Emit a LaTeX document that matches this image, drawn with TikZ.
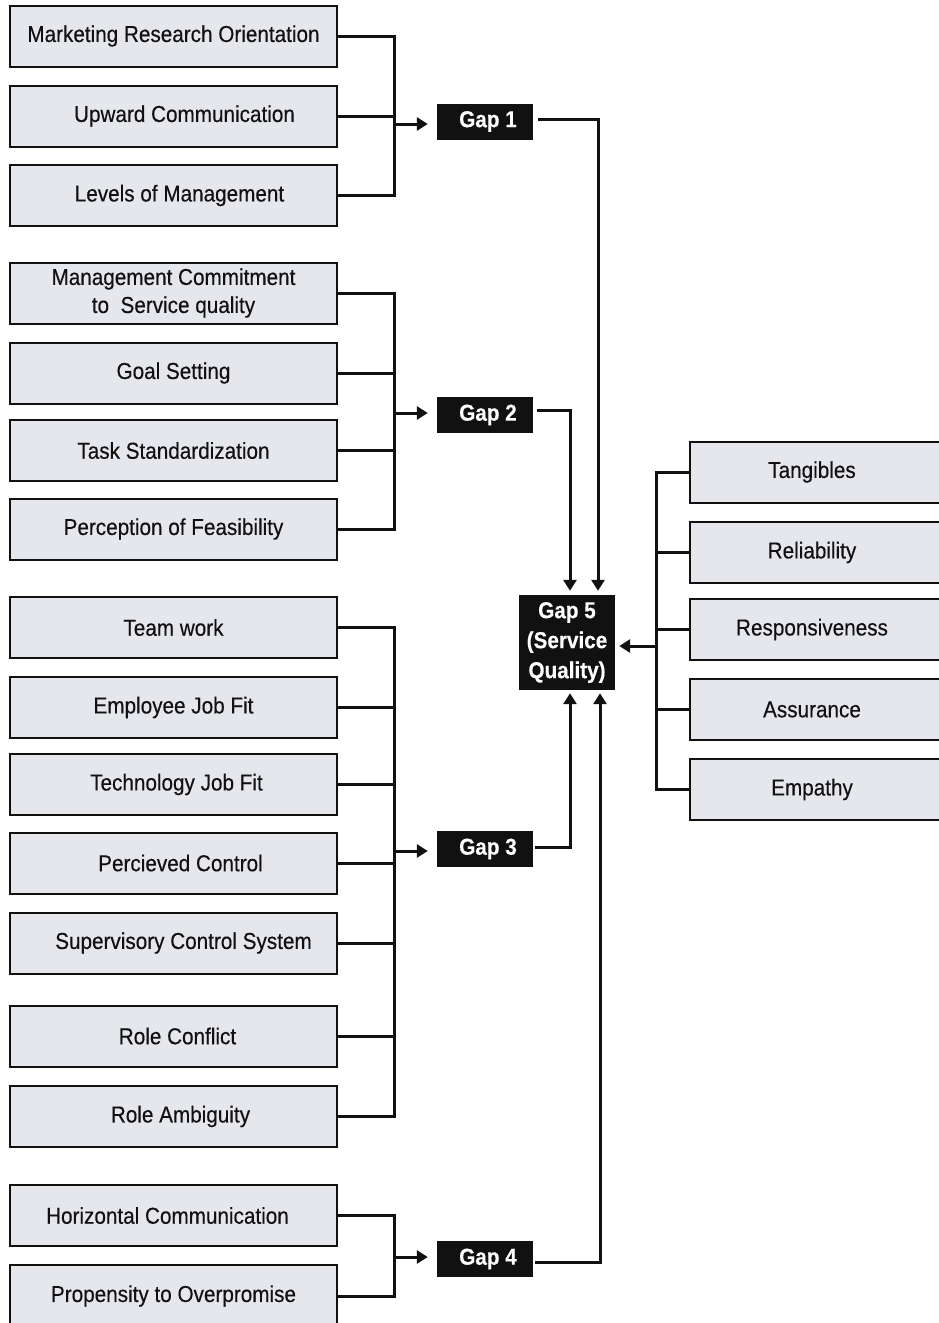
\documentclass[tikz,border=0pt]{standalone}
\usepackage{fontspec}
\setmainfont{Liberation Sans}[FakeStretch=0.9,FakeBold=0.35]
\usetikzlibrary{arrows.meta}
\definecolor{boxfill}{HTML}{E6E7EC}
\definecolor{ink}{HTML}{111111}
\begin{document}
\begin{tikzpicture}[x=1pt,y=-1pt,
  lbox/.style={draw=ink,line width=2pt,fill=boxfill,minimum width=327pt,minimum height=61pt,
    inner sep=0pt,font=\fontsize{23}{27}\selectfont,text=ink},
  rbox/.style={lbox,minimum width=260pt,tx=-16pt},
  tx/.style={execute at begin node={\hspace*{#1}}},
  gapbox/.style={fill=ink,minimum width=96pt,minimum height=36pt,inner sep=0pt,
    text=white,font=\fontsize{23}{27}\selectfont\bfseries},
  wire/.style={draw=ink,line width=3pt},
  arr/.style={wire,-{Triangle[length=11pt,width=13pt]}}
]
\clip (0,0) rectangle (939,1323);
\fill[white] (0,0) rectangle (939,1323);

% factor boxes, left column
\node[lbox] (a1) at (173.5,36) {Marketing Research Orientation};
\node[lbox,tx=22pt] (a2) at (173.5,116) {Upward Communication};
\node[lbox,tx=12pt] (a3) at (173.5,195.5) {Levels of Management};

\node[lbox,align=center,font=\fontsize{23}{28}\selectfont] (b1) at (173.5,293) {Management Commitment\\to\ \ Service quality};
\node[lbox] (b2) at (173.5,373) {Goal Setting};
\node[lbox] (b3) at (173.5,450.5) {Task Standardization};
\node[lbox] (b4) at (173.5,529) {Perception of Feasibility};

\node[lbox] (c1) at (173.5,627.5) {Team work};
\node[lbox] (c2) at (173.5,707.5) {Employee Job Fit};
\node[lbox,tx=6pt] (c3) at (173.5,784.5) {Technology Job Fit};
\node[lbox,tx=14pt] (c4) at (173.5,863) {Percieved Control};
\node[lbox,tx=20pt] (c5) at (173.5,943) {Supervisory Control System};
\node[lbox,tx=8pt] (c6) at (173.5,1036) {Role Conflict};
\node[lbox,tx=14pt] (c7) at (173.5,1116.5) {Role Ambiguity};

\node[lbox,tx=-12pt] (d1) at (173.5,1215.5) {Horizontal Communication};
\node[lbox,minimum height=62pt] (d2) at (173.5,1296) {Propensity to Overpromise};

% service quality dimensions, right column
\node[rbox] (e1) at (820,472) {Tangibles};
\node[rbox] (e2) at (820,552.5) {Reliability};
\node[rbox] (e3) at (820,629.5) {Responsiveness};
\node[rbox] (e4) at (820,709.5) {Assurance};
\node[rbox] (e5) at (820,789.5) {Empathy};

% gap boxes
\node[gapbox,tx=6pt] (g1) at (485,121.5) {Gap 1};
\node[gapbox,tx=6pt] (g2) at (485,415) {Gap 2};
\node[gapbox,tx=6pt] (g3) at (485,849) {Gap 3};
\node[gapbox,tx=6pt] (g4) at (485,1259) {Gap 4};
\node[gapbox,minimum height=95pt,align=center,font=\fontsize{23}{30}\selectfont\bfseries] (g5) at (567,642.5) {Gap 5\\(Service\\Quality)};

% bus junctions
\coordinate (j1) at (394,124);
\coordinate (j2) at (394,413);
\coordinate (j3) at (394,851);
\coordinate (j4) at (394,1257);
\coordinate (j5) at (656,646);

% gap 1 inputs
\draw[wire] (a1.east) -| (j1) |- (a3.east);
\draw[wire] (a2.east) -- (a2.east -| j1);
\draw[arr,shorten >=9pt] (j1) -- (j1 -| g1.west);

% gap 2 inputs
\draw[wire] (b1.east) -| (j2) |- (b4.east);
\draw[wire] (b2.east) -- (b2.east -| j2);
\draw[wire] (b3.east) -- (b3.east -| j2);
\draw[arr,shorten >=9pt] (j2) -- (j2 -| g2.west);

% gap 3 inputs
\draw[wire] (c1.east) -| (j3) |- (c7.east);
\foreach \n in {c2,c3,c4,c5,c6}
  \draw[wire] (\n.east) -- (\n.east -| j3);
\draw[arr,shorten >=9pt] (j3) -- (j3 -| g3.west);

% gap 4 inputs
\draw[wire] (d1.east) -| (j4) |- (d2.east);
\draw[arr,shorten >=9pt] (j4) -- (j4 -| g4.west);

% dimensions feeding gap 5
\draw[wire] (e1.west) -| (j5) |- (e5.west);
\foreach \n in {e2,e3,e4}
  \draw[wire] (\n.west) -- (\n.west -| j5);
\draw[arr,shorten >=4pt] (j5) -- (j5 -| g5.east);

% gaps 1-4 into gap 5
\draw[arr,shorten >=4pt] ([xshift=5pt,yshift=2.5pt]g1.east) -| ([xshift=31pt]g5.north);
\draw[arr,shorten >=4pt] ([xshift=4pt,yshift=5pt]g2.east) -| ([xshift=3pt]g5.north);
\draw[arr,shorten >=3pt] ([xshift=2pt,yshift=2pt]g3.east) -| ([xshift=3pt]g5.south);
\draw[arr,shorten >=3pt] ([xshift=2pt,yshift=-3pt]g4.east) -| ([xshift=33pt]g5.south);
\end{tikzpicture}
\end{document}
